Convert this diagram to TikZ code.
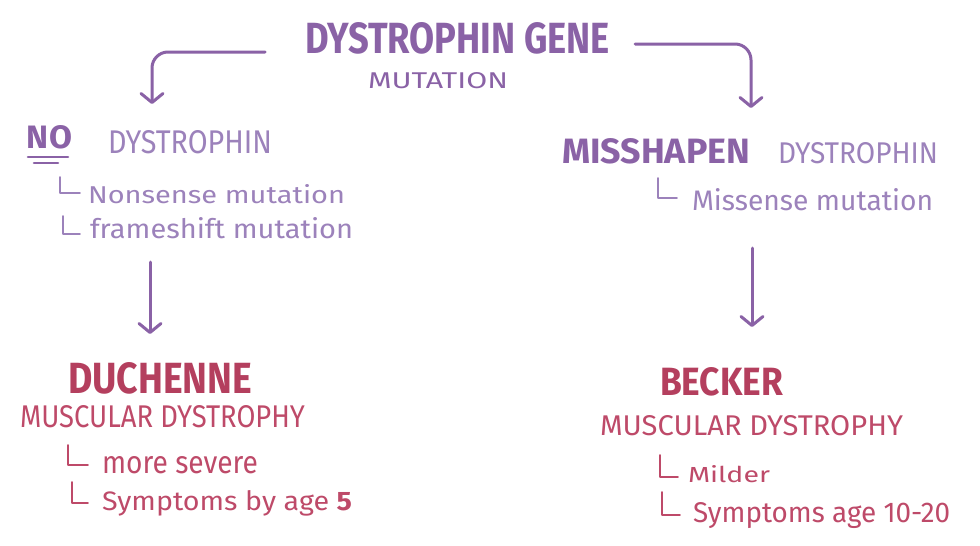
\documentclass[tikz,border=0pt]{standalone}
\usepackage{fontspec}
\setmainfont{Fira Sans}
\usepackage{graphicx}
\usetikzlibrary{arrows.meta}
\definecolor{pbold}{HTML}{8A62A6}
\definecolor{plight}{HTML}{9C82BB}
\definecolor{rbold}{HTML}{B43F5E}
\definecolor{rlight}{HTML}{BE4A69}
\newcommand{\fitt}[3]{\resizebox{#1pt}{#2pt}{#3}}
\tikzset{
  txt/.style={inner sep=0pt, outer sep=0pt, anchor=base west},
  arr/.style={line width=3pt, draw=pbold, line cap=round,
    -{Straight Barb[length=9pt,width=22pt,line width=3pt,round]}},
  lmarkp/.style={draw=plight, line width=1.8pt, line cap=round, line join=round},
  lmarkr/.style={draw=rlight, line width=1.8pt, line cap=round, line join=round},
  uline/.style={draw=pbold, line width=2.6pt, line cap=round}
}
\begin{document}
\begin{tikzpicture}[x=1pt,y=-1pt]
\useasboundingbox[fill=white] (0,0) rectangle (980,546);

% top
\node[txt, text=pbold] (gene) at (305,53) {\fitt{305}{31}{\bfseries DYSTROPHIN GENE}};
\node[txt, text=pbold] (mut) at (368,88) {\fitt{140}{16}{MUTATION}};

% left branch
\node[txt, text=pbold] (no) at (27,148) {\fitt{45}{23}{\bfseries NO}};
\draw[uline] (28,157) -- (68,157);
\draw[uline] (34,163) -- (58,163);
\node[txt, text=plight] (nodys) at (108,153) {\fitt{164}{23}{DYSTROPHIN}};
\draw[lmarkp] (60,177) |- (80,193);
\node[txt, text=plight] (nons) at (88,203) {\fitt{257}{19}{Nonsense mutation}};
\draw[lmarkp] (63,216) |- (80,234);
\node[txt, text=plight] (fs) at (90,238) {\fitt{263}{21}{frameshift mutation}};

% right branch
\node[txt, text=pbold] (miss) at (562,163) {\fitt{188}{25}{\bfseries MISSHAPEN}};
\node[txt, text=plight] (misdys) at (778,163) {\fitt{160}{21}{DYSTROPHIN}};
\draw[lmarkp] (658,178) |- (677,198);
\node[txt, text=plight] (missense) at (692,210) {\fitt{241}{22}{Missense mutation}};

% Duchenne
\node[txt, text=rbold] (duch) at (68,393) {\fitt{184}{31}{\bfseries DUCHENNE}};
\node[txt, text=rlight] (dmd) at (20,427) {\fitt{285}{22}{MUSCULAR DYSTROPHY}};
\draw[lmarkr] (68,445) |- (88,465);
\node[txt, text=rlight] (sev) at (102,473) {\fitt{156}{17}{more severe}};
\draw[lmarkr] (72,482) |- (88,503);
\node[txt, text=rlight] (sym5) at (102,510) {\fitt{250}{20}{Symptoms by age \textbf{5}}};

% Becker
\node[txt, text=rbold] (beck) at (660,395) {\fitt{123}{28}{\bfseries BECKER}};
\node[txt, text=rlight] (bmd) at (600,435) {\fitt{303}{20}{MUSCULAR DYSTROPHY}};
\draw[lmarkr] (660,455) |- (678,477);
\node[txt, text=rlight] (mild) at (688,482) {\fitt{82}{17}{Milder}};
\draw[lmarkr] (662,492) |- (680,515);
\node[txt, text=rlight] (sym10) at (693,522) {\fitt{257}{20}{Symptoms age 10-20}};

% arrow end points
\coordinate (la) at (152,104);
\coordinate (ra) at (751,108);
\coordinate (ldt) at (150,262);
\coordinate (ldb) at (150,334);
\coordinate (rdt) at (752,248);
\coordinate (rdb) at (752,327);

% connectors
\draw[arr, rounded corners=16pt] ([xshift=-40pt,yshift=1pt]gene.base west) -| (la);
\draw[arr, rounded corners=16pt] ([xshift=25pt,yshift=9pt]gene.base east) -| (ra);
\draw[arr] (ldt) -- (ldb);
\draw[arr] (rdt) -- (rdb);
\end{tikzpicture}
\end{document}
